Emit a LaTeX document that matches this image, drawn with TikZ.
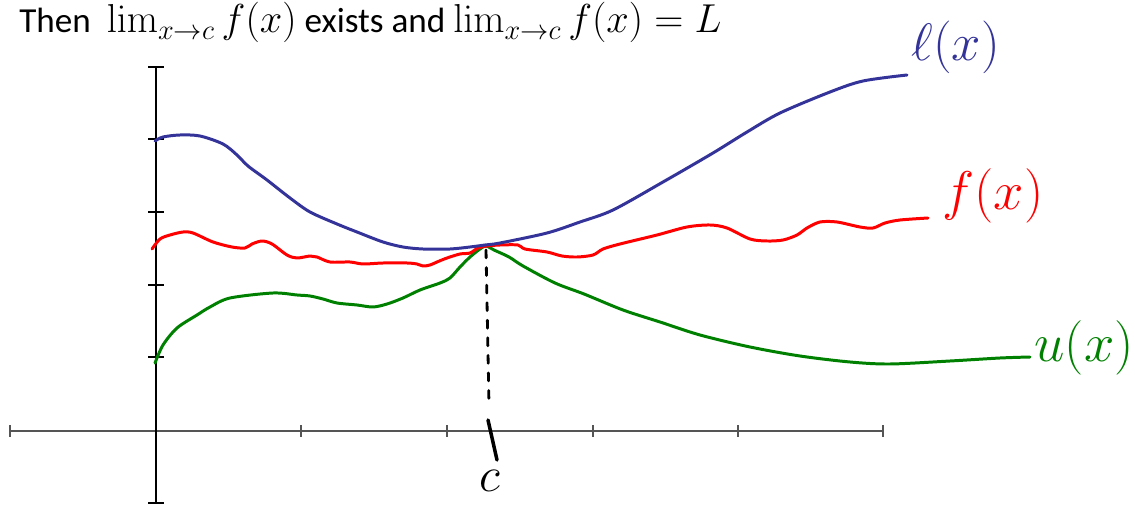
\RequirePackage{fix-cm}
\documentclass[tikz,border=0pt]{standalone}
\usepackage{amsmath}
\usepackage[no-math]{fontspec}
\setmainfont{Carlito}
\usetikzlibrary{positioning}
\definecolor{lnBlue}{HTML}{333399}
\definecolor{lnRed}{HTML}{FF0000}
\definecolor{lnGreen}{HTML}{008000}
\definecolor{axGray}{HTML}{555555}
\tikzset{
    % curves and axes
    curve/.style={line width=1.7pt,line join=round,line cap=round},
    axisline/.style={line width=1.1pt},
    tickmark/.style={line width=0.8pt},
    handlabel/.style={inner sep=0pt,anchor=west}
}
\newcommand{\bigmath}[1]{{\fontsize{23}{26}\selectfont$#1$}}

\begin{document}
\begin{tikzpicture}[x=0.02cm,y=-0.02cm]
\useasboundingbox (0,0) rectangle (1135,506);

% Statement at the top
\node[anchor=base west,inner sep=0pt,font=\fontsize{20}{24}\selectfont] at (19,33) (statement) {Then\ \ \bigmath{\lim_{x\to c} f(x)} exists and \bigmath{\lim_{x\to c} f(x) = L}};

% Axes with ticks
\draw[axisline,axGray] (10,431) -- (883,431);
\draw[axisline,black] (156,67) -- (156,503);
\foreach \ty in {67,139,212,285,357,503}
    \draw[tickmark,black] (148,\ty) -- (164,\ty);
\foreach \tx in {10,301,447,593,738,883}
    \draw[tickmark,axGray] (\tx,425) -- (\tx,437);

% Lower function
\draw[curve,lnGreen] plot[smooth,tension=0.5] coordinates {(155,363) (163,345) (177,328) (197,315) (210,307) (230,298) (273,293) (297,295) (310,296) (323,299) (337,303) (357,305) (373,307) (387,304) (403,298) (420,290) (440,283) (450,278) (460,267) (470,257) (480,249) (486,246) (494,250) (509,257) (523,266) (555,283) (584,294) (623,310) (660,322) (700,335) (750,347) (800,356) (850,362) (890,364) (950,361) (1000,358) (1030,357)};

% The function squeezed in between
\draw[curve,lnRed] plot[smooth,tension=0.5] coordinates {(152,249) (160,239) (170,235) (183,232) (193,233) (213,242) (232,247) (245,248) (252,244) (262,241) (272,244) (287,255) (297,258) (310,256) (317,257) (330,262) (350,262) (363,264) (383,263) (407,263) (417,264) (423,266) (430,265) (437,262) (447,258) (460,254) (470,253) (478,248) (487,246) (500,245) (518,245) (525,249) (547,252) (562,256) (577,257) (593,255) (603,249) (620,244) (657,235) (687,227) (710,225) (727,228) (750,239) (767,241) (783,240) (797,235) (807,228) (820,222) (837,222) (860,227) (873,228) (885,223) (900,220) (928,218)};

% Upper function
\draw[curve,lnBlue] plot[smooth,tension=0.5] coordinates {(155,141) (163,137) (180,135) (200,136) (223,144) (237,155) (248,166) (267,180) (290,198) (310,212) (337,224) (357,232) (383,242) (403,247) (423,249) (450,249) (470,247) (485,245) (500,243) (547,233) (580,222) (613,210) (663,182) (713,153) (747,132) (780,113) (830,92) (863,81) (907,75)};

% Labels of the curves
\node[handlabel,lnBlue,font=\fontsize{30}{34}\selectfont] at (911,47) (ell_label) {$\ell(x)$};
\node[handlabel,lnRed,font=\fontsize{31}{35}\selectfont] at (942,196) (f_label) {$f(x)$};
\node[handlabel,lnGreen,font=\fontsize{31}{35}\selectfont] at (1034,348) (u_label) {$u(x)$};

% Where the curves meet, dropped to the axis
\coordinate (meet) at (486,250);
\coordinate (foot) at (489,405);
\draw[line width=1.6pt,line cap=round,dash pattern=on 4.5pt off 5.5pt] (meet) -- (foot);
\coordinate (c_top) at (488,420);
\coordinate (c_bot) at (497,460);
\draw[line width=2pt,line cap=round] (c_top) -- (c_bot);
\node[anchor=north,inner sep=0pt,font=\fontsize{28}{32}\selectfont] at (490,470) (c_label) {$c$};

\end{tikzpicture}
\end{document}
